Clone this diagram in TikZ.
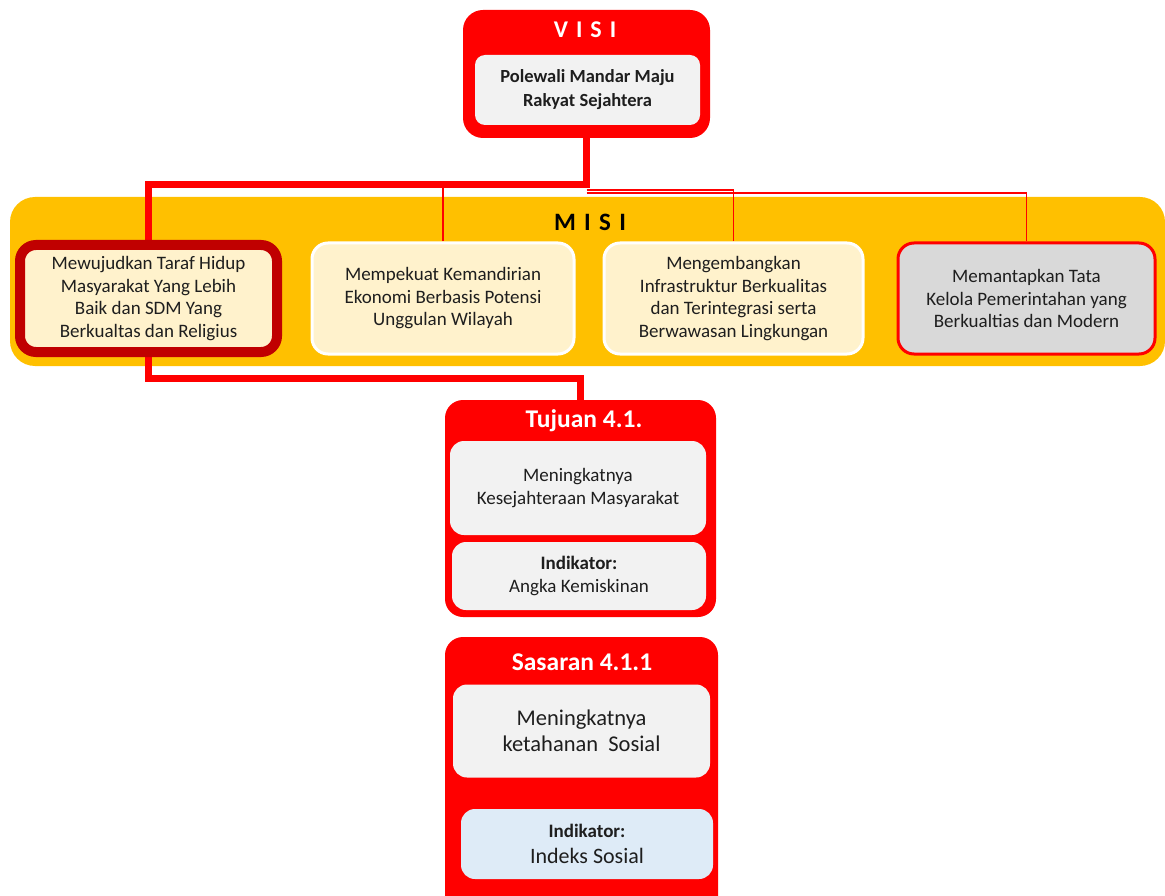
\documentclass[tikz,border=0pt]{standalone}
\usepackage{fontspec}
\setmainfont{Carlito}
\pgfdeclarelayer{band}
\pgfdeclarelayer{bg}
\pgfsetlayers{band,bg,main}
\definecolor{redA}{HTML}{FF0000}
\definecolor{darkred}{HTML}{C00000}
\definecolor{misi}{HTML}{FFC000}
\definecolor{cream}{HTML}{FFF2CC}
\definecolor{lgray}{HTML}{F2F2F2}
\definecolor{mgray}{HTML}{D9D9D9}
\definecolor{lblue}{HTML}{DEEBF7}
\definecolor{txt}{HTML}{1E1E1E}
\tikzset{
  redbox/.style={rectangle, rounded corners=20pt, fill=redA, draw=none},
  inbox/.style={rectangle, rounded corners=14pt, draw=none, align=center, text=txt, inner sep=0pt},
  misibox/.style={rectangle, rounded corners=16pt, align=center, text=txt, inner sep=0pt, font=\fontsize{19}{22.5}\selectfont},
  title/.style={text=white, font=\bfseries\fontsize{25.5}{28}\selectfont},
  thick line/.style={draw=redA, line width=7pt},
  thin line/.style={draw=redA, line width=1.5pt},
}
\begin{document}
\begin{tikzpicture}[x=1pt,y=-1pt]
\useasboundingbox (0,0) rectangle (1165,896);
\clip (0,0) rectangle (1165,896);
% VISI
\node[redbox, minimum width=247pt, minimum height=128pt] (visi) at (586.5,74) {};
\node[title, font=\bfseries\fontsize{24}{28}\selectfont] (visit) at (585,30) {V\,\,I\,\,S\,\,I};
\node[inbox, fill=lgray, rounded corners=10pt, minimum width=225pt, minimum height=70pt,
      font=\bfseries\fontsize{18.5}{24}\selectfont] (visin) at (587.5,90) {Polewali Mandar Maju\\Rakyat Sejahtera};
% MISI band
\begin{pgfonlayer}{band}
\node[rectangle, rounded corners=25pt, fill=misi, minimum width=1155pt, minimum height=169pt] (band) at (587.5,281.5) {};
\end{pgfonlayer}
\node[font=\bfseries\fontsize{25}{28}\selectfont, text=black] (misit) at (590,222) {M\,\,I\,\,S\,\,I};
\node[misibox, fill=cream, draw=darkred, line width=10pt, minimum width=257pt, minimum height=107pt] (m1) at (148.5,298.5)
  {Mewujudkan Taraf Hidup\\Masyarakat Yang Lebih\\Baik dan SDM Yang\\Berkualtas dan Religius};
\node[misibox, fill=cream, draw=white, line width=3pt, minimum width=262pt, minimum height=111pt] (m2) at (443,298.5)
  {Mempekuat Kemandirian\\Ekonomi Berbasis Potensi\\Unggulan Wilayah};
\node[misibox, fill=cream, draw=white, line width=3pt, minimum width=259pt, minimum height=111pt] (m3) at (733.5,298.5)
  {Mengembangkan\\Infrastruktur Berkualitas\\dan Terintegrasi serta\\Berwawasan Lingkungan};
\node[misibox, fill=mgray, draw=redA, line width=3pt, minimum width=257pt, minimum height=111pt] (m4) at (1026.5,298.5)
  {Memantapkan Tata\\Kelola Pemerintahan yang\\Berkualtias dan Modern};
% Tujuan
\node[redbox, rounded corners=18pt, minimum width=271pt, minimum height=217pt] (tuj) at (580.5,508.5) {};
\node[title] (tujt) at (584,421) {Tujuan 4.1.};
\node[inbox, fill=lgray, minimum width=256pt, minimum height=94pt, font=\fontsize{19}{23}\selectfont] (tuj1) at (578,488)
  {Meningkatnya\\Kesejahteraan Masyarakat};
\node[inbox, fill=lgray, minimum width=254pt, minimum height=68pt, font=\fontsize{19}{23}\selectfont] (tuj2) at (579,576)
  {\textbf{Indikator:}\\Angka Kemiskinan};
% Sasaran
\node[redbox, rounded corners=18pt, minimum width=273pt, minimum height=283pt] (sas) at (581.5,778.5) {};
\node[title] (sast) at (582,662) {Sasaran 4.1.1};
\node[inbox, fill=lgray, minimum width=257pt, minimum height=93pt, font=\fontsize{22.5}{26}\selectfont] (sas1) at (581.5,731)
  {Meningkatnya\\ketahanan\ \ Sosial};
\node[inbox, fill=lblue, minimum width=252pt, minimum height=70pt, font=\fontsize{22}{26}\selectfont] (sas2) at (587,844)
  {{\bfseries\fontsize{19}{26}\selectfont Indikator:}\\Indeks Sosial};
% connectors
\coordinate (j) at (visi.south |- 0,185);
\coordinate (j3) at (visi.south |- 0,190);
\coordinate (j4) at (visi.south |- 0,193);
\coordinate (k) at (tuj.north |- 0,378);
\begin{pgfonlayer}{bg}
\draw[thick line] (visi.south) -- (j) -| (m1.north);
\draw[thin line] (j3) -| (m3.north);
\draw[thin line] (j4) -| (m4.north);
\draw[thin line] (m2.north) -- (m2.north |- j);
\draw[thick line] (m1.south) |- (k) -- (tuj.north);
\end{pgfonlayer}
\end{tikzpicture}
\end{document}
